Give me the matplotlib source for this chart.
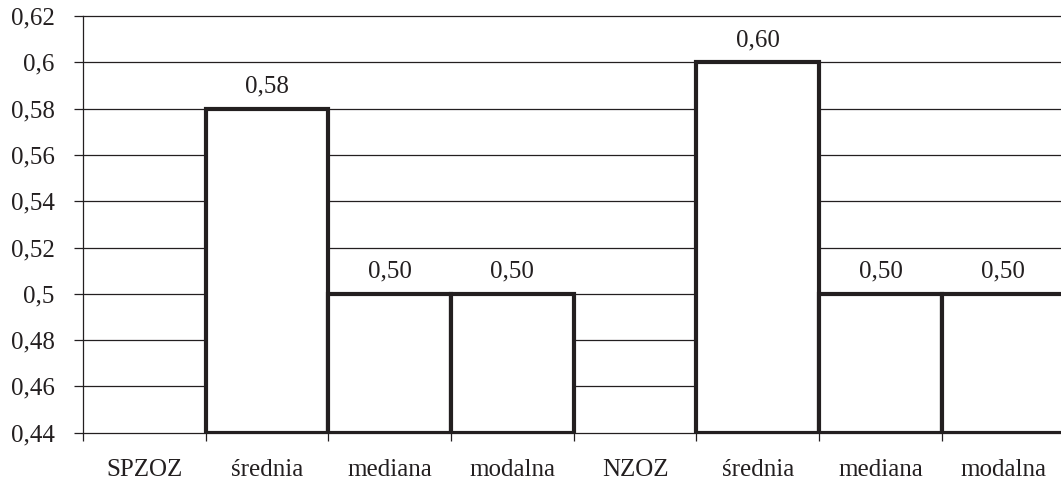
import matplotlib.pyplot as plt
import numpy as np

categories = ["SPZOZ", "średnia", "mediana", "modalna",
              "NZOZ", "średnia", "mediana", "modalna"]
# group header slots carry no bar
values = [None, 0.58, 0.50, 0.50, None, 0.60, 0.50, 0.50]
y_ticks = [0.44, 0.46, 0.48, 0.50, 0.52, 0.54, 0.56, 0.58, 0.60, 0.62]

ink = "#231f20"
plt.rcParams["font.family"] = ["Liberation Serif", "DejaVu Serif"]

fig = plt.figure(figsize=(10.61, 4.83), dpi=100)
ax = fig.add_axes([0.0782, 0.1041, 0.9252, 0.8627])

x = np.arange(len(categories))
bar_x = [i for i, v in enumerate(values) if v is not None]
bar_v = [v for v in values if v is not None]
base = y_ticks[0]

ax.bar(bar_x, [v - base for v in bar_v], bottom=base, width=1.0,
       facecolor="white", edgecolor=ink, linewidth=3.0, zorder=3)
for xi, v in zip(bar_x, bar_v):
    ax.annotate(f"{v:.2f}".replace(".", ","), (xi, v), xytext=(0, 8),
                textcoords="offset points", ha="center", va="bottom",
                fontsize=18, color=ink)

ax.set_xlim(-0.5, len(categories) - 0.5)
ax.set_ylim(y_ticks[0], y_ticks[-1])

ax.set_yticks(y_ticks)
ax.set_yticklabels([f"{t:g}".replace(".", ",") for t in y_ticks])
ax.yaxis.grid(True, color=ink, linewidth=0.9, zorder=1)
for line in ax.get_ygridlines():
    line.set_clip_on(False)
ax.tick_params(axis="y", length=6.5, width=0.9, color=ink, pad=14,
               labelsize=18, labelcolor=ink)

ax.set_xticks(x)
ax.set_xticklabels(categories)
ax.set_xticks(np.arange(len(categories)) - 0.5, minor=True)
ax.tick_params(axis="x", which="major", length=0, pad=19,
               labelsize=18, labelcolor=ink)
ax.tick_params(axis="x", which="minor", length=6, width=0.9, color=ink)

for side in ("top", "right", "bottom"):
    ax.spines[side].set_visible(False)
ax.spines["left"].set_color(ink)
ax.spines["left"].set_linewidth(0.9)
ax.set_axisbelow(True)

fig.savefig("out.png", dpi=100)
